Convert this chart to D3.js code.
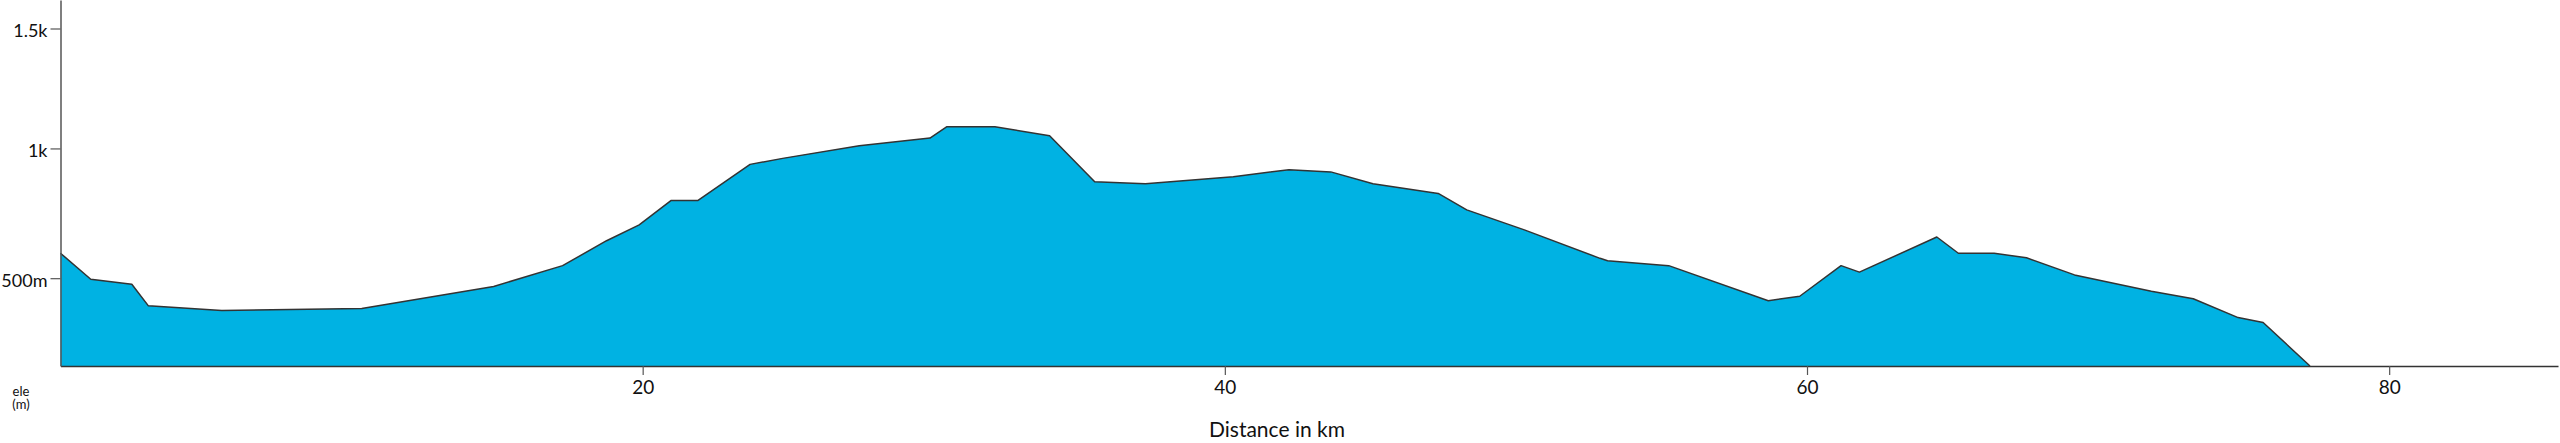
<!DOCTYPE html>
<html>
<head>
<meta charset="utf-8">
<script src="https://cdn.jsdelivr.net/npm/d3@7"></script>
<style>
  html, body { margin: 0; padding: 0; background: #fff; }
  svg { display: block; }
  text { font-family: Lato, "Noto Sans", sans-serif; fill: #111; }
</style>
</head>
<body>
<svg id="chart" width="2560" height="443"></svg>
<script>
// Distance along the route (km)
const distanceKm = [0, 1.04, 2.45, 3.02, 5.54, 10.35, 14.88, 17.25, 18.76, 19.88,
  20.97, 21.89, 23.69, 24.81, 27.44, 29.87, 30.44, 32.10, 33.98, 35.53,
  37.27, 40.29, 42.20, 43.64, 45.09, 47.33, 48.31, 50.29, 52.89, 53.15,
  55.25, 58.67, 59.75, 61.17, 61.80, 64.46, 65.20, 66.43, 67.54, 69.19,
  71.83, 73.27, 74.81, 75.67, 77.28];
// Elevation (m)
const elevationM = [592, 496, 478, 401, 385, 392, 470, 546, 639, 699,
  793, 793, 936, 960, 1011, 1042, 1088, 1088, 1051, 867,
  859, 887, 915, 906, 859, 821, 757, 680, 573, 564,
  546, 419, 435, 546, 522, 653, 592, 592, 575, 512,
  453, 426, 360, 343, 199];
const xTickValues = [20, 40, 60, 80];
const yTickValues = [500, 1000, 1500];
const yTickLabels = ["500m", "1k", "1.5k"];
const xTitle = "Distance in km";
const yTitleLines = ["ele", "(m)"];

const svg = d3.select("#chart");
const mLeft = 60.5, mRight = 2558, mTop = 0, mBottom = 366;

const x = d3.scaleLinear().domain([0, 85.8]).range([mLeft, mRight]);
const y = d3.scalePow().exponent(0.85).domain([199, 1623]).range([mBottom, mTop]);

const data = distanceKm.map((d, i) => ({ d, e: elevationM[i] }));

const area = d3.area()
  .x(p => x(p.d))
  .y0(mBottom)
  .y1(p => y(p.e));
const line = d3.line()
  .x(p => x(p.d))
  .y(p => y(p.e));

svg.append("path")
  .datum(data)
  .attr("d", area)
  .attr("fill", "#00b2e3");
svg.append("path")
  .datum(data)
  .attr("d", line)
  .attr("fill", "none")
  .attr("stroke", "#333")
  .attr("stroke-width", 1.5)
  .attr("stroke-linejoin", "round");

// X axis
const xAxis = d3.axisBottom(x)
  .tickValues(xTickValues)
  .tickSize(9)
  .tickSizeOuter(0)
  .tickPadding(6)
  .tickFormat(d3.format("d"));
const gx = svg.append("g")
  .attr("transform", `translate(0,${mBottom})`)
  .call(xAxis);
gx.select(".domain").attr("stroke", "#333").attr("stroke-width", 1.5);
gx.selectAll(".tick line").attr("stroke", "#555").attr("stroke-width", 1.2);
gx.selectAll(".tick text").attr("font-size", 19).attr("fill", "#111")
  .attr("font-family", "Lato, 'Noto Sans', sans-serif");

// Y axis
const yAxis = d3.axisLeft(y)
  .tickValues(yTickValues)
  .tickSize(10)
  .tickSizeOuter(0)
  .tickPadding(3)
  .tickFormat((d, i) => yTickLabels[i]);
const gy = svg.append("g")
  .attr("transform", `translate(${mLeft},0)`)
  .call(yAxis);
gy.select(".domain").attr("stroke", "#555").attr("stroke-width", 1.5);
gy.selectAll(".tick line").attr("stroke", "#555").attr("stroke-width", 1.2);
gy.selectAll(".tick text").attr("font-size", 18).attr("fill", "#111")
  .attr("dy", "0.45em")
  .attr("font-family", "Lato, 'Noto Sans', sans-serif");

// Axis titles
svg.append("text")
  .attr("x", 1277)
  .attr("y", 437)
  .attr("text-anchor", "middle")
  .attr("font-size", 21)
  .text(xTitle);

const yt = svg.append("text")
  .attr("x", 21)
  .attr("y", 396)
  .attr("text-anchor", "middle")
  .attr("font-size", 13);
yt.selectAll("tspan").data(yTitleLines).join("tspan")
  .attr("x", 21)
  .attr("dy", (d, i) => i === 0 ? 0 : "1em")
  .text(d => d);
</script>
</body>
</html>
